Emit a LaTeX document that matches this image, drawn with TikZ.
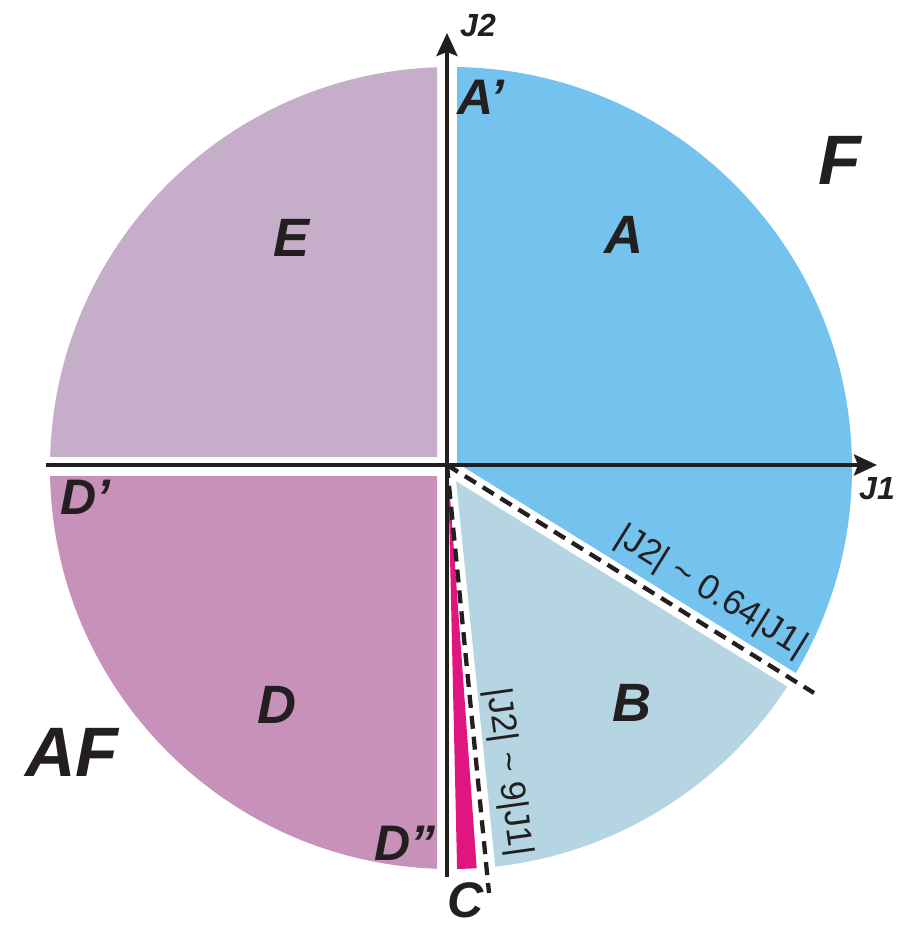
\documentclass[tikz,border=0pt]{standalone}
\usepackage{fontspec}
\setmainfont{Liberation Sans}
\usetikzlibrary{arrows.meta}
\definecolor{cA}{RGB}{115,195,238}
\definecolor{cB}{RGB}{180,213,225}
\definecolor{cC}{RGB}{224,21,127}
\definecolor{cD}{RGB}{200,145,186}
\definecolor{cE}{RGB}{198,174,202}
\definecolor{ink}{RGB}{35,31,32}
\begin{document}
\begin{tikzpicture}[x=1pt,y=-1pt,
  big/.style={font=\fontsize{54}{54}\selectfont\bfseries\itshape, text=ink, inner sep=0pt},
  mid/.style={font=\fontsize{50}{50}\selectfont\bfseries\itshape, text=ink, inner sep=0pt},
  huge/.style={font=\fontsize{70}{70}\selectfont\bfseries\itshape, text=ink, inner sep=0pt},
  axlab/.style={font=\fontsize{32}{32}\selectfont\bfseries\itshape, text=ink, inner sep=0pt},
  rel/.style={font=\fontsize{35}{35}\selectfont, text=ink, inner sep=0pt},
  axis/.style={line width=4pt, draw=ink},
  divider/.style={line width=4.3pt, draw=ink, dash pattern=on 13pt off 8pt},
  tipstyle/.style={-{Stealth[length=23pt,width=21pt,inset=4pt]}},
]
\path[use as bounding box] (0,0) rectangle (898,928);
\coordinate (O) at (451,468);
\coordinate (P) at (447,465);
% E
\begin{scope}\clip (0,-10) rectangle (437,456); \fill[cE] (O) circle (401pt); \end{scope}
% D
\begin{scope}\clip (0,476) rectangle (437,940); \fill[cD] (O) circle (401pt); \end{scope}
% A
\begin{scope}\clip (457,-10) -- (910,-10) -- (910,743.8) -- (457,462.96) -- cycle; \fill[cA] (O) circle (401pt); \end{scope}
% B
\begin{scope}\clip (456.1,481.2) -- ({456.1+1000*cos(31.8)},{481.2+1000*sin(31.8)}) -- ({456.1+1000*cos(84.2)},{481.2+1000*sin(84.2)}) -- cycle; \fill[cB] (O) circle (401pt); \end{scope}
% C
\begin{scope}\clip (448,468) -- ({448+1000*cos(85.9)},{468+1000*sin(85.9)}) -- ({448+1000*cos(88.7)},{468+1000*sin(88.7)}) -- cycle; \fill[cC] (O) circle (401pt); \end{scope}
% dashed dividers
\coordinate (d1end) at (814,693);
\coordinate (d2end) at (489,893);
\draw[divider] (P) -- (d1end);
\draw[divider] (P) -- (d2end);
% axes
\coordinate (j2base) at (447,877);
\coordinate (j2tip) at (447,33);
\coordinate (j1base) at (46,465);
\coordinate (j1tip) at (877,465);
\draw[axis,tipstyle] (j2base) -- (j2tip);
\draw[axis,tipstyle] (j1base) -- (j1tip);
% labels
\node[axlab] (lJ2) at (478,25) {J2};
\node[axlab] (lJ1) at (877,489) {J1};
\node[mid] (lAp) at (481,97) {A’};
\node[huge] (lF) at (840,160) {F};
\node[huge] (lAF) at (72,752) {AF};
\node[big] (lA) at (624,235) {A};
\node[big] (lE) at (292,238) {E};
\node[big] (lB) at (632,703) {B};
\node[big] (lD) at (277,705) {D};
\node[mid] (lDp) at (85,497) {D’};
\node[mid] (lDpp) at (405,843) {D”};
\node[mid] (lC) at (466,900) {C};
\node[rel,rotate=-31.8] (r1) at (711,592) {\textbar J2\textbar\ \textasciitilde\ 0.64\textbar J1\textbar};
\node[rel,rotate=-82] (r2) at (508,772) {\textbar J2\textbar\ \textasciitilde\ 9\textbar J1\textbar};
\end{tikzpicture}
\end{document}
